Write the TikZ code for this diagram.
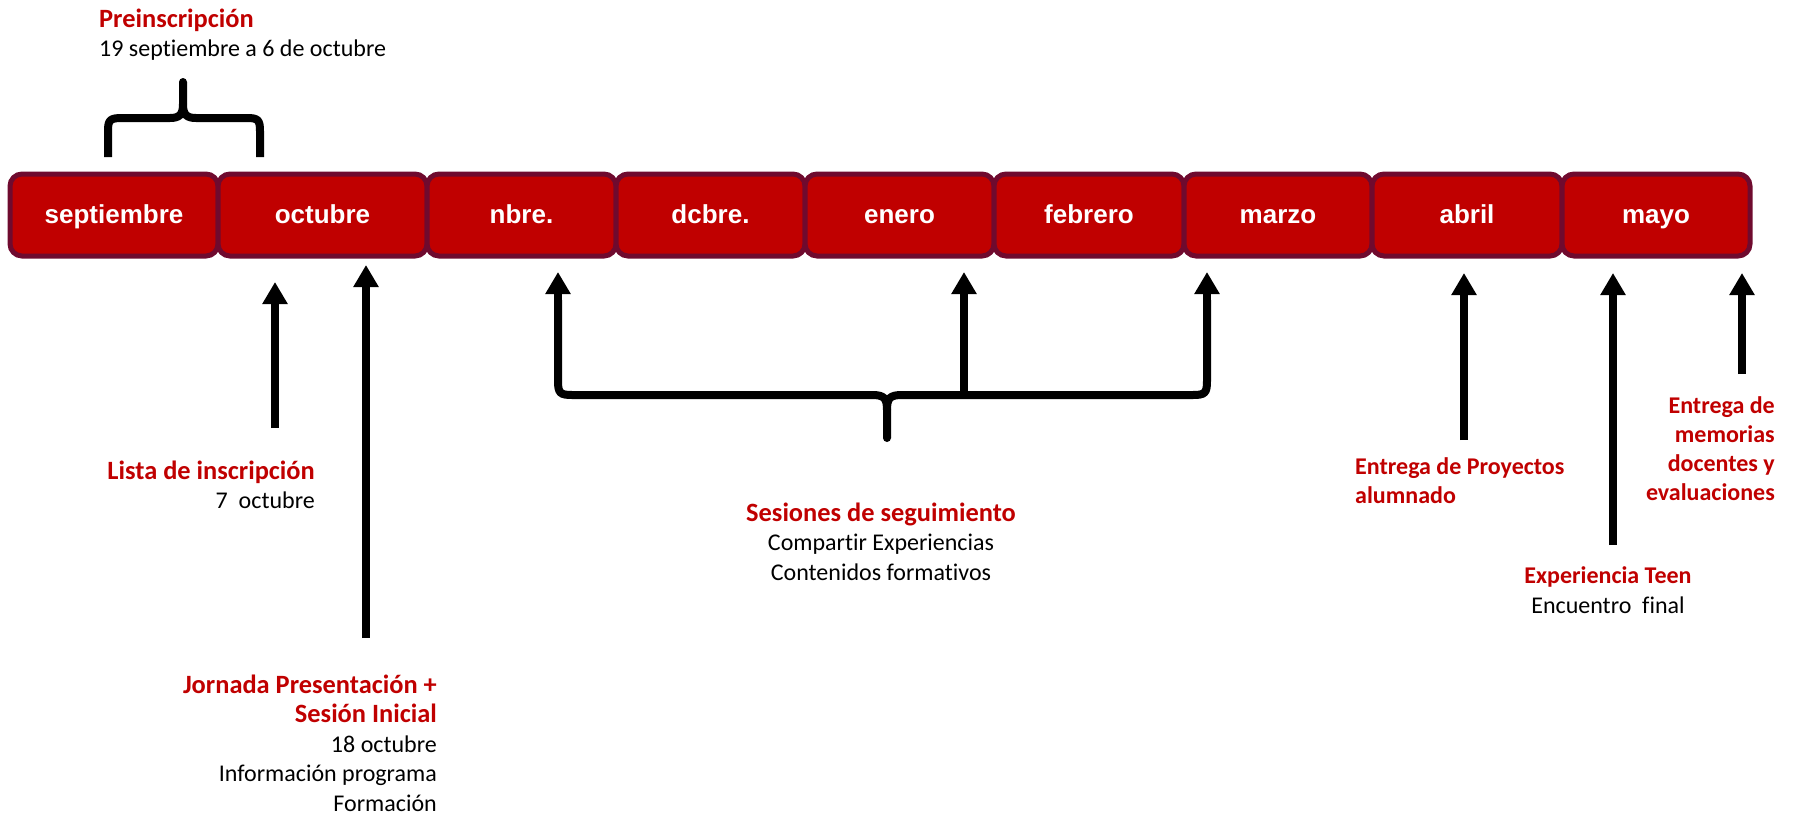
\documentclass[tikz,border=0pt]{standalone}
\usepackage{fontspec}
\setmainfont{Carlito}[Ligatures=NoCommon]
\newfontfamily\arialfont{Liberation Sans}
\usetikzlibrary{arrows.meta}
\definecolor{boxred}{HTML}{C00000}
\definecolor{boxborder}{HTML}{6F0A2E}
\definecolor{labelred}{HTML}{C00000}
\begin{document}
\begin{tikzpicture}[x=1pt,y=-1pt,
  month/.style={draw=boxborder, fill=boxred, line width=5pt, rounded corners=12pt,
    minimum height=82pt, inner sep=0pt, text=white, text height=21pt, text depth=5pt,
    font=\arialfont\bfseries\fontsize{26}{30}\selectfont},
  arr/.style={line width=8pt, -{Triangle[width=24pt,length=22pt]}},
  bracepen/.style={line width=8pt, line join=round},
  lbl/.style={inner sep=0pt, font=\fontsize{24}{29.5}\selectfont},
]
\useasboundingbox (0,0) rectangle (1794,814);

% month boxes
\node[month, minimum width=208pt] (sep) at (114,215) {septiembre};
\node[month, minimum width=209pt] (oct) at (322.5,215) {octubre};
\node[month, minimum width=189pt] (nov) at (521.5,215) {nbre.};
\node[month, minimum width=189pt] (dic) at (710.5,215) {dcbre.};
\node[month, minimum width=189pt] (ene) at (899.5,215) {enero};
\node[month, minimum width=190pt] (feb) at (1089,215) {febrero};
\node[month, minimum width=188pt] (mar) at (1278,215) {marzo};
\node[month, minimum width=190pt] (abr) at (1467,215) {abril};
\node[month, minimum width=188pt] (may) at (1656,215) {mayo};

% Preinscripcion
\node[lbl, anchor=base west, align=left] (pre) at (99,56.5)
  {{\color{labelred}\bfseries\fontsize{26.4}{29.5}\selectfont Preinscripción}\\19 septiembre a 6 de octubre};
\draw[bracepen] (108,157) -- (108,131) .. controls (108,120) and (110,118) .. (122,118)
  -- (170,118) .. controls (180,118) and (183,114) .. (183,104) -- (183,82);
\draw[bracepen] (183,104) .. controls (183,114) and (186,118) .. (196,118)
  -- (247,118) .. controls (258,118) and (260,120) .. (260,131) -- (260,157);
\fill (183,82) circle (4pt);

% Lista de inscripcion
\coordinate (lista-tip) at (275,282);
\coordinate (lista-base) at (275,428);
\draw[arr] (lista-base) -- (lista-tip);
\node[lbl, anchor=base east, align=right] (lista) at (315,508.5)
  {{\color{labelred}\bfseries\fontsize{26.4}{29.5}\selectfont Lista de inscripción}\\7\ \ octubre};

% Jornada
\coordinate (jor-tip) at (366,265);
\coordinate (jor-base) at (366,638);
\draw[arr] (jor-base) -- (jor-tip);
\node[lbl, anchor=base east, align=right] (jor) at (437,811)
  {{\color{labelred}\bfseries\fontsize{26.4}{29.5}\selectfont Jornada Presentación +}\\
   {\color{labelred}\bfseries\fontsize{26.4}{29.5}\selectfont Sesión Inicial}\\
   18 octubre\\Información programa\\Formación};

% Sesiones de seguimiento
\coordinate (ses-l-tip) at (558,272);
\coordinate (ses-l-base) at (558,385);
\coordinate (ses-m-tip) at (964,272);
\coordinate (ses-m-base) at (964,395);
\coordinate (ses-r-tip) at (1207,272);
\coordinate (ses-r-base) at (1207,385);
\draw[bracepen] (558,300) -- (558,381) .. controls (558,393) and (560,395) .. (572,395)
  -- (872,395) .. controls (884,395) and (887,398) .. (887,410) -- (887,438);
\draw[bracepen] (887,410) .. controls (887,398) and (890,395) .. (902,395)
  -- (1193,395) .. controls (1205,395) and (1207,393) .. (1207,381) -- (1207,300);
\fill (887,438) circle (4pt);
\draw[arr] (ses-l-base) -- (ses-l-tip);
\draw[arr] (ses-m-base) -- (ses-m-tip);
\draw[arr] (ses-r-base) -- (ses-r-tip);
\node[lbl, anchor=base, align=center] (ses) at (881,580)
  {{\color{labelred}\bfseries\fontsize{26.4}{29.5}\selectfont Sesiones de seguimiento}\\
   Compartir Experiencias\\Contenidos formativos};

% Entrega de proyectos
\coordinate (abr-tip) at (1464,273);
\coordinate (abr-base) at (1464,440);
\draw[arr] (abr-base) -- (abr-tip);
\node[lbl, anchor=base west, align=left, text=labelred, font=\bfseries\fontsize{24}{29}\selectfont] (proy) at (1355,503)
  {Entrega de Proyectos\\alumnado};

% Experiencia Teen
\coordinate (teen-tip) at (1613,273);
\coordinate (teen-base) at (1613,545);
\draw[arr] (teen-base) -- (teen-tip);
\node[lbl, anchor=base, align=center] (teen) at (1608,613)
  {{\color{labelred}\bfseries Experiencia Teen}\\Encuentro\ \ final};

% Entrega de memorias
\coordinate (mem-tip) at (1742,273);
\coordinate (mem-base) at (1742,374);
\draw[arr] (mem-base) -- (mem-tip);
\node[lbl, anchor=base east, align=right, text=labelred, font=\bfseries\fontsize{24}{29}\selectfont] (mem) at (1775,500)
  {Entrega de\\memorias\\docentes y\\evaluaciones};
\end{tikzpicture}
\end{document}
